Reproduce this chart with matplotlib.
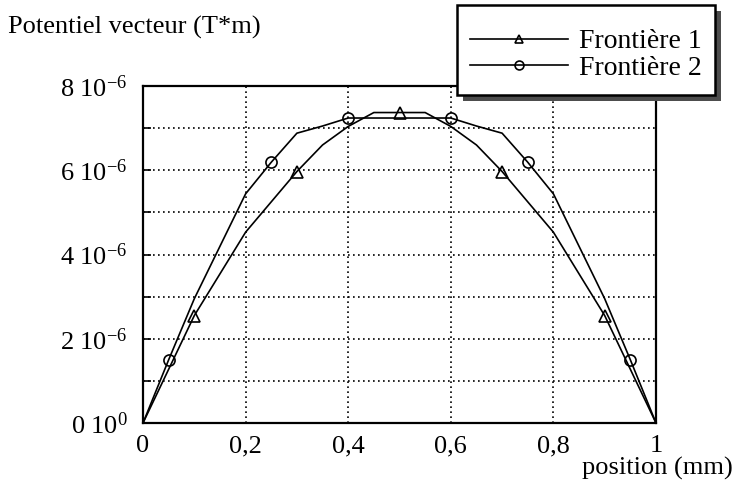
import matplotlib
matplotlib.use("Agg")
import matplotlib.pyplot as plt
from matplotlib.patches import Rectangle
from matplotlib.ticker import FixedLocator, FixedFormatter

plt.rcParams['font.family'] = ['Liberation Serif', 'DejaVu Serif']
plt.rcParams['mathtext.fontset'] = 'custom'
plt.rcParams['mathtext.rm'] = 'Liberation Serif'
plt.rcParams['mathtext.default'] = 'regular'

# Data (potential in units of 1e-6 T*m)
x1 = [0, 0.1, 0.2, 0.3, 0.35, 0.4, 0.45, 0.5, 0.55, 0.6, 0.65, 0.7, 0.8, 0.9, 1]
y1 = [0, 2.55, 4.53, 5.97, 6.6, 7.04, 7.37, 7.37, 7.37, 7.04, 6.6, 5.97, 4.53, 2.55, 0]
mark1 = [1, 3, 7, 11, 13]

x2 = [0, 0.05, 0.1, 0.2, 0.25, 0.3, 0.35, 0.4, 0.6, 0.65, 0.7, 0.75, 0.8, 0.9, 0.95, 1]
y2 = [0, 1.5, 2.95, 5.44, 6.19, 6.88, 7.05, 7.24, 7.24, 7.05, 6.88, 6.19, 5.44, 2.95, 1.5, 0]
mark2 = [1, 4, 7, 8, 11, 14]

labels = ["Frontière 1", "Frontière 2"]
xticks = [0, 0.2, 0.4, 0.6, 0.8, 1]
xticklabels = ["0", "0,2", "0,4", "0,6", "0,8", "1"]
yticks = [0, 2e-6, 4e-6, 6e-6, 8e-6]
yticklabels = ["0 10$^{0}$", "2 10$^{-6}$", "4 10$^{-6}$", "6 10$^{-6}$", "8 10$^{-6}$"]
yminor = [1e-6, 3e-6, 5e-6, 7e-6]

W, H = 735, 482
fig = plt.figure(figsize=(W / 100, H / 100), dpi=100)
ax = fig.add_axes([143 / W, 1 - 423 / H, 513 / W, 337 / H])

ax.plot(x1, [v * 1e-6 for v in y1], color='k', lw=1.2, marker='^', markevery=mark1,
        ms=8, mfc='none', mec='k', mew=1.2, label=labels[0])
ax.plot(x2, [v * 1e-6 for v in y2], color='k', lw=1.2, marker='o', markevery=mark2,
        ms=8, mfc='none', mec='k', mew=1.2, label=labels[1])

ax.set_xlim(0, 1)
ax.set_ylim(0, 8e-6)
ax.xaxis.set_major_locator(FixedLocator(xticks))
ax.xaxis.set_major_formatter(FixedFormatter(xticklabels))
ax.yaxis.set_major_locator(FixedLocator(yticks))
ax.yaxis.set_major_formatter(FixedFormatter(yticklabels))
ax.yaxis.set_minor_locator(FixedLocator(yminor))

ax.tick_params(axis='x', length=0, pad=9, labelsize=19)
ax.tick_params(axis='y', which='both', direction='in', length=6, width=1.2, pad=11, labelsize=19)
ax.grid(True, which='both', color='k', linestyle=(0, (1, 2)), linewidth=1.2)

for s in ax.spines.values():
    s.set_linewidth(1.6)

# labels
fig.text(8 / W, 1 - 27 / H, "Potentiel vecteur (T*m)", fontsize=19, ha='left', va='center')
fig.text(733 / W, 1 - 475 / H, "position (mm)", fontsize=19, ha='right', va='baseline')

# legend box with shadow
lx0, ly0, lx1, ly1 = 457, 5, 715, 95
sh = 6
fig.patches.append(Rectangle(((lx0 + sh) / W, 1 - (ly1 + sh) / H), (lx1 - lx0) / W, (ly1 - ly0) / H,
                             transform=fig.transFigure, facecolor='0.3', edgecolor='none', zorder=2))
fig.patches.append(Rectangle((lx0 / W, 1 - ly1 / H), (lx1 - lx0) / W, (ly1 - ly0) / H,
                             transform=fig.transFigure, facecolor='white', edgecolor='k', lw=1.8, zorder=3))
handles, labs = ax.get_legend_handles_labels()
leg = fig.legend(handles, labs, loc='center', bbox_to_anchor=((lx0 + lx1) / 2 / W, 1 - 55 / H),
                 frameon=False, fontsize=20, handlelength=3.5, handletextpad=0.4, labelspacing=0.05,
                 markerscale=0.8)
leg.set_zorder(5)

fig.savefig("out.png", dpi=100)
